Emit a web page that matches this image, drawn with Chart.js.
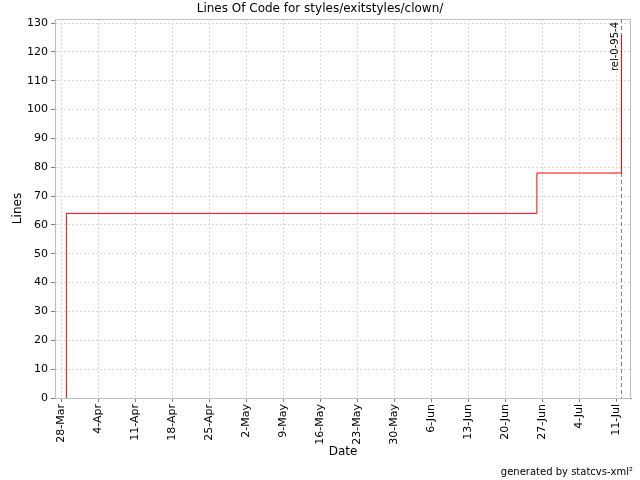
<!DOCTYPE html>
<html>
<head>
<meta charset="utf-8">
<script src="https://cdn.jsdelivr.net/npm/chart.js@4"></script>
<style>
  html, body { margin: 0; padding: 0; background: #fff; }
  #wrap { width: 640px; height: 480px; }
</style>
</head>
<body>
<div id="wrap"><canvas id="locChart" width="640" height="480"></canvas></div>
<script>
// ----------------------------
// DATA
// ----------------------------
const startDate = "2005-03-28";
const commitDates = ["2005-03-29", "2005-03-29", "2005-06-26", "2005-07-12"];
const locValues = [0, 64, 78, 126];
const xTickLabels = ["28-Mar", "4-Apr", "11-Apr", "18-Apr", "25-Apr", "2-May", "9-May",
  "16-May", "23-May", "30-May", "6-Jun", "13-Jun", "20-Jun", "27-Jun", "4-Jul", "11-Jul"];
const yTicks = [0, 10, 20, 30, 40, 50, 60, 70, 80, 90, 100, 110, 120, 130];
const releaseLabel = "rel-0-95-4";
const releaseDate = "2005-07-12";

// days since the first tick
function dayOf(d) {
  return (Date.parse(d) - Date.parse(startDate)) / 86400000;
}
const points = commitDates.map((d, i) => ({ x: dayOf(d), y: locValues[i] }));

const FONT = "'DejaVu Sans', sans-serif";

// ----------------------------
// EXTRA DRAWING (titles, border, release marker)
// ----------------------------
const decorPlugin = {
  id: "decor",
  beforeDatasetsDraw(chart) {
    const { ctx, chartArea: a, scales } = chart;
    ctx.save();
    // plot border
    ctx.strokeStyle = "#c0c0c0";
    ctx.lineWidth = 1;
    ctx.strokeRect(a.left + 0.5, a.top + 0.5, a.right - a.left - 1, a.bottom - a.top);
    // release marker
    const rx = Math.round(scales.x.getPixelForValue(dayOf(releaseDate))) + 0.5;
    ctx.strokeStyle = "#808080";
    ctx.setLineDash([4, 3]);
    ctx.beginPath();
    ctx.moveTo(rx, a.top);
    ctx.lineTo(rx, a.bottom);
    ctx.stroke();
    ctx.restore();
  },
  afterDraw(chart) {
    const { ctx, chartArea: a, scales } = chart;
    ctx.save();
    ctx.fillStyle = "#000";
    ctx.font = "12px " + FONT;
    ctx.textAlign = "center";
    ctx.textBaseline = "middle";
    ctx.fillText("Lines Of Code for styles/exitstyles/clown/", 320, 9);

    ctx.font = "12px " + FONT;
    ctx.fillText("Date", (a.left + a.right) / 2, 452);
    ctx.save();
    ctx.translate(18, (a.top + a.bottom) / 2);
    ctx.rotate(-Math.PI / 2);
    ctx.fillText("Lines", 0, 0);
    ctx.restore();

    // release label
    const rx = scales.x.getPixelForValue(dayOf(releaseDate));
    ctx.save();
    ctx.translate(rx - 1, a.top + 3);
    ctx.rotate(-Math.PI / 2);
    ctx.font = "10px " + FONT;
    ctx.textAlign = "right";
    ctx.textBaseline = "bottom";
    ctx.fillText(releaseLabel, 0, 0);
    ctx.restore();

    ctx.font = "10px " + FONT;
    ctx.textAlign = "right";
    ctx.textBaseline = "middle";
    ctx.fillText("generated by statcvs-xml\u00b2", 633, 472);
    ctx.restore();
  }
};

// ----------------------------
// CHART
// ----------------------------
new Chart(document.getElementById("locChart"), {
  type: "line",
  data: {
    datasets: [{
      data: points,
      borderColor: "#ff0000",
      borderWidth: 1,
      pointRadius: 0,
      stepped: "before",
      fill: false
    }]
  },
  options: {
    responsive: false,
    animation: false,
    events: [],
    layout: { padding: { top: 19, right: 9, left: 0, bottom: 0 } },
    plugins: { legend: { display: false }, tooltip: { enabled: false }, title: { display: false } },
    scales: {
      x: {
        type: "linear",
        min: -1.15,
        max: 107.8,
        afterBuildTicks: (s) => { s.ticks = xTickLabels.map((_, i) => ({ value: i * 7 })); },
        afterFit: (s) => { s.height = 82; },
        ticks: {
          autoSkip: false,
          minRotation: 90,
          maxRotation: 90,
          color: "#000",
          font: { family: FONT, size: 11 },
          padding: 2,
          callback: (v) => xTickLabels[Math.round(v / 7)]
        },
        grid: {
          color: "#d8d8d8",
          tickColor: "#808080",
          tickLength: 4,
          tickBorderDash: []
        },
        border: { color: "#808080", dash: [2, 2], display: true }
      },
      y: {
        type: "linear",
        min: 0,
        max: 131.4,
        afterBuildTicks: (s) => { s.ticks = yTicks.map((v) => ({ value: v })); },
        afterFit: (s) => { s.width = 55; },
        ticks: {
          color: "#000",
          font: { family: FONT, size: 11 },
          padding: 3
        },
        grid: {
          color: "#d8d8d8",
          tickColor: "#808080",
          tickLength: 4,
          tickBorderDash: []
        },
        border: { color: "#808080", dash: [2, 2], display: true }
      }
    },
    elements: { line: { tension: 0 } }
  },
  plugins: [decorPlugin]
});
</script>
</body>
</html>
